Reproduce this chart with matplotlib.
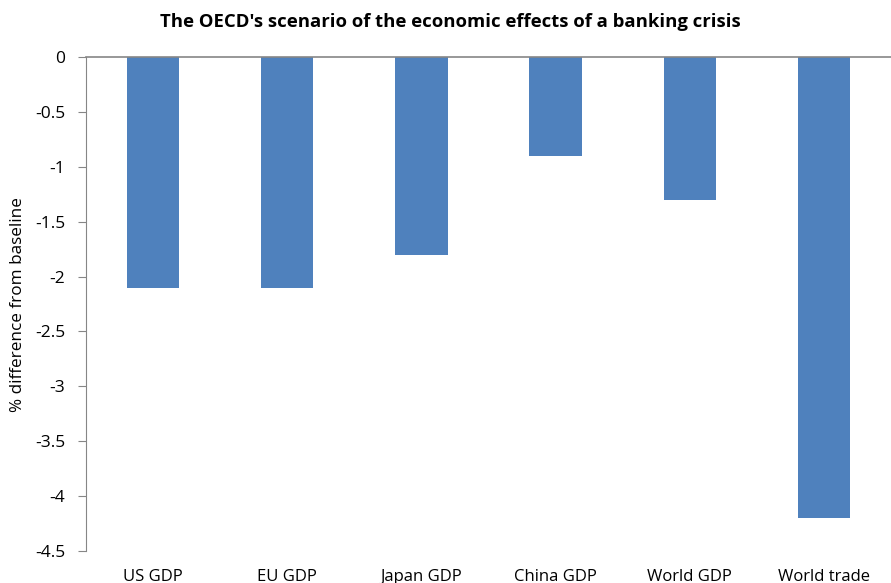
import matplotlib
matplotlib.use("Agg")
from matplotlib import pyplot as plt
import numpy as np

# data
categorias = ["US GDP", "EU GDP", "Japan GDP", "China GDP", "World GDP", "World trade"]
valores = [-2.1, -2.1, -1.8, -0.9, -1.3, -4.2]
ticks_y = [0, -0.5, -1, -1.5, -2, -2.5, -3, -3.5, -4, -4.5]

plt.rcParams['font.family'] = ['Open Sans', 'DejaVu Sans']

fig = plt.figure(figsize=(8.91, 5.83), dpi=100)
ax = fig.add_axes([86 / 891, 32 / 583, 805 / 891, 494 / 583])

x = np.arange(len(categorias))
ax.bar(x, valores, width=0.39, color='#4F81BD', zorder=2)

ax.set_xlim(-0.5, len(categorias) - 0.5)
ax.set_ylim(-4.5, 0)
ax.set_yticks(ticks_y)
ax.set_yticklabels([f"{t:g}" for t in ticks_y], fontsize=12.5)
ax.tick_params(axis='y', direction='out', length=6, color='#868686', pad=9)
ax.set_xticks([])

for s in ['right', 'bottom']:
    ax.spines[s].set_visible(False)
ax.spines['left'].set_color('#868686')
ax.spines['top'].set_color('#868686')
ax.spines['top'].set_linewidth(1.2)

# rotulos das categorias abaixo do eixo (posicao "baixa")
for xi, nome in zip(x, categorias):
    ax.text(xi, -4.5 - 0.16, nome, ha='center', va='top', fontsize=12, clip_on=False)

fig.text(18 / 891, 1 - 305 / 583, '% difference from baseline', rotation=90,
         ha='center', va='center', fontsize=12.3)
fig.text(450 / 891, 1 - 22 / 583, "The OECD's scenario of the economic effects of a banking crisis",
         ha='center', va='center', fontsize=13.3, fontweight='bold')

fig.savefig('out.png', dpi=100)
